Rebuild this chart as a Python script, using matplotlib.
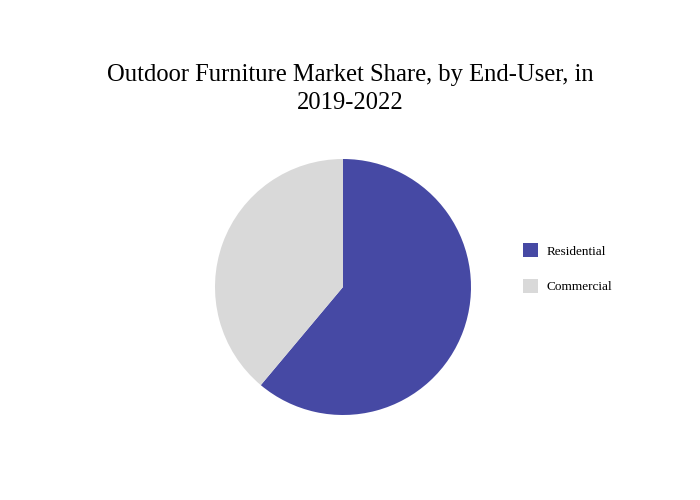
import matplotlib.pyplot as plt
from matplotlib.patches import Patch

labels = ['Residential', 'Commercial']
shares = [61.1, 38.9]
colors = ['#4649A4', '#D9D9D9']

plt.rcParams['font.family'] = ['Liberation Serif', 'DejaVu Serif']

fig = plt.figure(figsize=(7, 5), dpi=100)
cx, cy, r = 343, 287, 128
ax = fig.add_axes([(cx - r) / 700, (500 - cy - r) / 500, 2 * r / 700, 2 * r / 500])
ax.pie(shares, colors=colors, startangle=90, counterclock=False,
       wedgeprops={'linewidth': 0})
ax.set_xlim(-1, 1)
ax.set_ylim(-1, 1)
ax.set_aspect('equal')

fig.text(0.5, 0.822, 'Outdoor Furniture Market Share, by End-User, in\n2019-2022',
         ha='center', va='center', fontsize=17.7, linespacing=1.4)

handles = [Patch(facecolor=c, edgecolor='none') for c in colors]
fig.legend(handles, labels, loc='upper left', bbox_to_anchor=(0.73, 0.537),
           frameon=False, fontsize=9.5, handlelength=1.15, handleheight=1.25,
           labelspacing=1.6, handletextpad=0.65)

fig.savefig('out.png', dpi=100)
